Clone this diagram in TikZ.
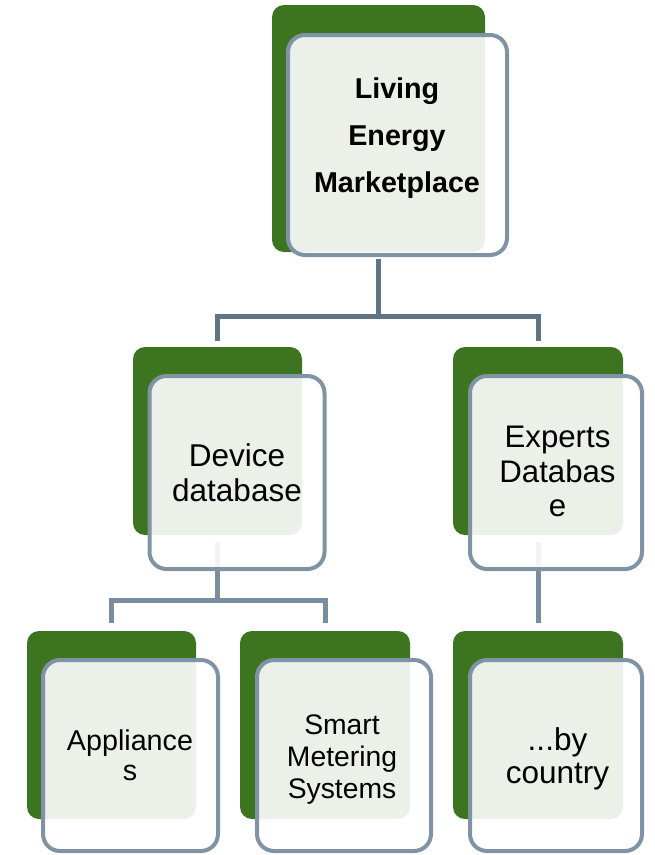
\documentclass[tikz,border=0pt]{standalone}
\usepackage{fontspec}
\setmainfont{Liberation Sans}
\definecolor{leafgreen}{RGB}{60,116,32}
\definecolor{boxborder}{RGB}{127,147,165}
\definecolor{connA}{RGB}{96,116,132}
\definecolor{connB}{RGB}{122,141,159}
\tikzset{
  greenbox/.style={rectangle, rounded corners=12pt, fill=leafgreen, draw=none, inner sep=0pt, outer sep=0pt},
  frontbox/.style={rectangle, rounded corners=17pt, draw=boxborder, line width=4pt, fill=white, fill opacity=0.9, inner sep=0pt, outer sep=0pt},
  conn/.style={line width=5pt},
  connone/.style={conn, draw=connA},
  conntwo/.style={conn, draw=connB},
  label/.style={align=center, anchor=base, inner sep=0pt, text=black},
}
\begin{document}
\begin{tikzpicture}[x=1pt,y=-1pt]
\useasboundingbox (0,0) rectangle (654,855);
% back (green) boxes
\node[greenbox, minimum width=213pt, minimum height=247pt] (topG) at (378.5,128.5) {};
\node[greenbox, minimum width=169pt, minimum height=188pt] (devG) at (217.5,441) {};
\node[greenbox, minimum width=170pt, minimum height=188pt] (expG) at (538,441) {};
\node[greenbox, minimum width=169pt, minimum height=188pt] (appG) at (111.5,725) {};
\node[greenbox, minimum width=170pt, minimum height=188pt] (smG) at (325,725) {};
\node[greenbox, minimum width=170pt, minimum height=188pt] (cntG) at (538,725) {};
% connectors
\draw[connone] ([yshift=-7pt]topG.south) -- ++(0,57) -| ([yshift=6pt]devG.north);
\draw[connone] ([yshift=-7pt]topG.south) -- ++(0,57) -| ([yshift=6pt]expG.north);
\draw[conntwo] ([yshift=-7pt]devG.south) -- ++(0,58) -| ([yshift=8pt]appG.north);
\draw[conntwo] ([yshift=-7pt]devG.south) -- ++(0,58) -| ([yshift=8pt]smG.north);
\draw[conntwo] ([yshift=-7pt]expG.south) -- ([yshift=8pt]cntG.north);
% front boxes
\node[frontbox, minimum width=219pt, minimum height=220pt] (topF) at (397.5,145) {};
\node[frontbox, minimum width=175pt, minimum height=193pt] (devF) at (237,472.5) {};
\node[frontbox, minimum width=172pt, minimum height=193pt] (expF) at (556,472.5) {};
\node[frontbox, minimum width=175pt, minimum height=191pt] (appF) at (130.5,755.5) {};
\node[frontbox, minimum width=174pt, minimum height=191pt] (smF) at (344,755.5) {};
\node[frontbox, minimum width=172pt, minimum height=191pt] (cntF) at (556,755.5) {};
% labels (base anchor = baseline of the last line)
\node[label, font=\fontsize{28.7}{47}\selectfont\bfseries] (topT) at (397,192) {Living\\Energy\\Marketplace};
\node[label, font=\fontsize{31.5}{35}\selectfont] (devT) at (237,501.7) {Device\\database};
\node[label, font=\fontsize{31.2}{34.5}\selectfont] (expT) at (557.5,516.7) {Experts\\Databas\\e};
\node[label, font=\fontsize{28.7}{30.7}\selectfont] (appT) at (130,780.7) {Appliance\\s};
\node[label, font=\fontsize{28.3}{32}\selectfont] (smT) at (342,798) {Smart\\Metering\\Systems};
\node[label, font=\fontsize{31.5}{33}\selectfont] (cntT) at (557.5,783) {...by\\country};
\end{tikzpicture}
\end{document}
